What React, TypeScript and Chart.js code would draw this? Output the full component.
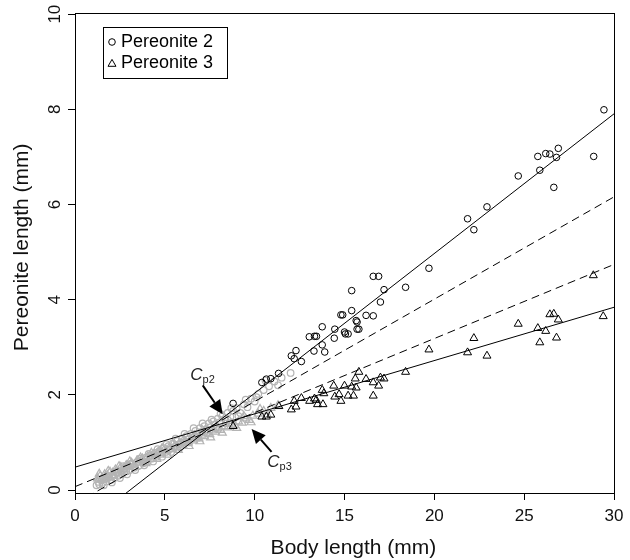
import React, { useEffect, useRef } from 'react';
import { Chart, registerables } from 'chart.js';

Chart.register(...registerables);

// ---------- data ----------
const xTicks = [0, 5, 10, 15, 20, 25, 30];
const yTicks = [0, 2, 4, 6, 8, 10];
const seriesLabels = ['Pereonite 2', 'Pereonite 3'];
const xTitle = 'Body length (mm)';
const yTitle = 'Pereonite length (mm)';

// Pereonite 2, larger individuals (black circles)
const p2BigX = [8.8, 10.4, 10.65, 10.9, 11.33, 12.04, 12.2, 12.3, 12.6, 13.04, 13.33, 13.44, 13.3, 13.76, 13.76, 13.9, 14.43, 14.46, 14.8, 14.9, 15.0, 15.05, 15.2, 15.4, 15.4, 15.65, 15.7, 15.7, 15.8, 16.2, 16.6, 16.6, 16.9, 17.0, 17.2, 18.4, 19.7, 21.85, 22.2, 22.93, 24.67, 25.76, 25.87, 26.2, 26.43, 26.65, 26.8, 26.9, 28.87, 29.44];
const p2BigY = [1.82, 2.26, 2.33, 2.34, 2.45, 2.82, 2.76, 2.93, 2.7, 3.22, 3.23, 3.23, 2.92, 3.43, 3.05, 2.9, 3.19, 3.38, 3.68, 3.68, 3.32, 3.28, 3.28, 4.19, 3.77, 3.56, 3.53, 3.38, 3.38, 3.67, 3.66, 4.49, 4.49, 3.95, 4.21, 4.26, 4.66, 5.7, 5.47, 5.95, 6.6, 7.01, 6.72, 7.07, 7.06, 6.36, 6.99, 7.18, 7.01, 7.99];

// Pereonite 3, larger individuals (black triangles)
const p3BigX = [8.8, 10.4, 10.65, 10.9, 11.35, 12.04, 12.2, 12.3, 12.6, 13.06, 13.33, 13.43, 13.5, 13.8, 13.76, 13.85, 14.4, 14.46, 14.7, 14.8, 15.0, 15.2, 15.4, 15.5, 15.6, 15.65, 15.8, 16.2, 16.6, 16.6, 16.9, 17.0, 17.2, 18.4, 19.7, 21.85, 22.2, 22.93, 24.67, 25.76, 25.87, 26.2, 26.43, 26.65, 26.8, 26.9, 28.85, 29.4];
const p3BigY = [1.34, 1.54, 1.54, 1.58, 1.76, 1.69, 1.87, 1.75, 1.93, 1.87, 1.92, 1.89, 1.8, 1.8, 2.1, 2.03, 2.19, 1.96, 2.01, 1.87, 2.19, 1.98, 2.17, 1.98, 2.34, 2.15, 2.48, 2.33, 2.26, 1.98, 2.19, 2.36, 2.34, 2.48, 2.95, 2.89, 3.19, 2.82, 3.49, 3.4, 3.1, 3.34, 3.69, 3.7, 3.2, 3.58, 4.51, 3.65];

// Pereonite 2, small individuals (grey circles)
const p2SmallX = [1.2, 1.3, 1.35, 1.5, 1.55, 1.7, 1.75, 1.9, 2.0, 2.1, 2.2, 2.35, 2.4, 2.55, 2.6, 2.75, 2.85, 2.95, 3.05, 3.2, 3.3, 3.45, 3.55, 3.7, 3.8, 3.95, 4.05, 4.2, 4.3, 4.45, 4.55, 4.7, 4.8, 4.95, 5.05, 5.2, 5.3, 5.45, 5.55, 5.7, 5.8, 5.95, 6.05, 6.2, 6.3, 6.45, 6.55, 6.7, 6.8, 6.95, 7.05, 7.2, 7.3, 7.45, 7.55, 7.7, 7.8, 7.95, 8.05, 8.2, 8.35, 8.5, 8.65, 8.8, 9.0, 9.2, 9.4, 9.6, 9.8, 10.0, 10.2, 10.5, 10.8, 11.1, 11.5, 12.0,
  1.4, 1.6, 1.8, 2.05, 2.3, 2.5, 2.7, 2.9, 3.1, 3.35, 3.6, 3.85, 4.1, 4.35, 4.6, 4.85, 5.1, 5.35, 5.6, 5.85, 6.1, 6.35, 6.6, 6.85, 7.1, 7.35, 7.6, 7.85, 8.1, 8.4, 8.7, 9.1, 9.5, 10.1, 10.6, 11.3];
const p2SmallY = [0.10, 0.17, 0.12, 0.21, 0.15, 0.24, 0.18, 0.27, 0.21, 0.32, 0.26, 0.36, 0.30, 0.40, 0.33, 0.44, 0.39, 0.49, 0.42, 0.53, 0.47, 0.58, 0.51, 0.62, 0.56, 0.68, 0.60, 0.72, 0.66, 0.78, 0.70, 0.82, 0.76, 0.88, 0.80, 0.92, 0.86, 0.98, 0.90, 1.03, 0.96, 1.08, 1.00, 1.13, 1.06, 1.18, 1.10, 1.24, 1.16, 1.30, 1.22, 1.34, 1.27, 1.40, 1.32, 1.44, 1.38, 1.50, 1.42, 1.55, 1.48, 1.62, 1.54, 1.66, 1.72, 1.62, 1.80, 1.74, 1.92, 1.86, 2.02, 2.10, 2.18, 2.28, 2.36, 2.46,
  0.22, 0.10, 0.30, 0.16, 0.38, 0.25, 0.50, 0.33, 0.55, 0.42, 0.66, 0.52, 0.76, 0.60, 0.86, 0.70, 0.96, 0.80, 1.08, 0.90, 1.18, 1.00, 1.30, 1.10, 1.40, 1.20, 1.48, 1.30, 1.60, 1.40, 1.72, 1.55, 1.90, 1.95, 2.30, 2.20];

// Pereonite 3, small individuals (grey triangles)
const p3SmallX = [1.25, 1.4, 1.5, 1.65, 1.8, 1.95, 2.1, 2.25, 2.4, 2.55, 2.7, 2.85, 3.0, 3.15, 3.3, 3.45, 3.6, 3.75, 3.9, 4.05, 4.2, 4.35, 4.5, 4.65, 4.8, 4.95, 5.1, 5.25, 5.4, 5.55, 5.7, 5.85, 6.0, 6.15, 6.3, 6.45, 6.6, 6.75, 6.9, 7.05, 7.2, 7.35, 7.5, 7.65, 7.8, 7.95, 8.1, 8.3, 8.5, 8.7, 8.9, 9.1, 9.3, 9.5, 9.7, 9.9, 10.2, 10.5, 10.9, 11.3,
  1.35, 1.6, 1.85, 2.15, 2.45, 2.75, 3.05, 3.35, 3.65, 3.95, 4.25, 4.55, 4.85, 5.15, 5.45, 5.75, 6.05, 6.35, 6.65, 6.95, 7.25, 7.55, 7.85, 8.2, 8.6, 9.0, 9.4, 9.8, 10.3, 10.7];
const p3SmallY = [0.24, 0.30, 0.25, 0.33, 0.31, 0.38, 0.36, 0.43, 0.40, 0.48, 0.45, 0.52, 0.50, 0.57, 0.54, 0.62, 0.59, 0.66, 0.63, 0.71, 0.68, 0.75, 0.72, 0.80, 0.77, 0.84, 0.81, 0.89, 0.86, 0.93, 0.90, 0.98, 0.95, 1.02, 0.99, 1.07, 1.04, 1.11, 1.08, 1.16, 1.13, 1.20, 1.17, 1.25, 1.22, 1.29, 1.26, 1.34, 1.31, 1.39, 1.36, 1.44, 1.41, 1.50, 1.47, 1.56, 1.60, 1.66, 1.72, 1.78,
  0.34, 0.22, 0.40, 0.30, 0.50, 0.38, 0.60, 0.48, 0.68, 0.56, 0.78, 0.65, 0.88, 0.74, 0.96, 0.84, 1.06, 0.92, 1.15, 1.02, 1.25, 1.10, 1.33, 1.20, 1.45, 1.30, 1.55, 1.42, 1.70, 1.58];

// Fitted lines (end values at x = 0 and x = 30)
const fitX = [0, 30];
const p2FitY = [-0.9, 7.905];
const p3FitY = [0.48, 3.84];
const p2DashY = [-0.29, 6.16];
const p3DashY = [0.07, 4.74];

// ---------- helpers ----------
const FONT = '"Liberation Sans", Arial, Helvetica, sans-serif';
const zip = (xs: number[], ys: number[]) => xs.map((x, i) => ({ x, y: ys[i] }));
const GREY = '#b4b4b4';

const boxPlugin = {
  id: 'boxPlugin',
  afterDraw(chart: any) {
    const { ctx, chartArea: a, scales } = chart;
    const xs = scales.x;
    const ys = scales.y;
    ctx.save();
    ctx.strokeStyle = '#000';
    ctx.lineWidth = 1;
    ctx.strokeRect(Math.round(a.left) + 0.5, Math.round(a.top) + 0.5, Math.round(a.right - a.left), Math.round(a.bottom - a.top));

    // axis titles
    ctx.fillStyle = '#111';
    ctx.font = `21px ${FONT}`;
    ctx.textAlign = 'center';
    ctx.textBaseline = 'middle';
    ctx.fillText(xTitle, xs.getPixelForValue(15.5), 548);
    ctx.save();
    ctx.translate(22, ys.getPixelForValue(5.1));
    ctx.rotate(-Math.PI / 2);
    ctx.fillText(yTitle, 0, 0);
    ctx.restore();

    // legend
    const lx = 103, ly = 27, lw = 124, lh = 51;
    ctx.strokeRect(lx + 0.5, ly + 0.5, lw, lh);
    ctx.font = `18px ${FONT}`;
    ctx.textAlign = 'left';
    ctx.fillStyle = '#000';
    ctx.lineWidth = 1;
    ctx.beginPath();
    ctx.arc(112, 42, 3.3, 0, Math.PI * 2);
    ctx.stroke();
    ctx.fillText(seriesLabels[0], 121, 42);
    const r = 4.6, tx = 112, ty = 64;
    ctx.beginPath();
    for (let k = 0; k < 3; k++) {
      const ang = (k * 2 * Math.PI) / 3;
      const px = tx + Math.sin(ang) * r;
      const py = ty - Math.cos(ang) * r;
      if (k === 0) ctx.moveTo(px, py); else ctx.lineTo(px, py);
    }
    ctx.closePath();
    ctx.stroke();
    ctx.fillText(seriesLabels[1], 121, 63);

    // annotations
    const drawArrow = (x1: number, y1: number, x2: number, y2: number) => {
      const p1x = xs.getPixelForValue(x1), p1y = ys.getPixelForValue(y1);
      const p2x = xs.getPixelForValue(x2), p2y = ys.getPixelForValue(y2);
      const ang = Math.atan2(p2y - p1y, p2x - p1x);
      const hl = 14, hw = 6.5;
      const bx = p2x - Math.cos(ang) * hl, by = p2y - Math.sin(ang) * hl;
      ctx.beginPath();
      ctx.moveTo(p1x, p1y);
      ctx.lineTo(bx, by);
      ctx.lineWidth = 2;
      ctx.strokeStyle = '#000';
      ctx.stroke();
      ctx.beginPath();
      ctx.moveTo(p2x, p2y);
      ctx.lineTo(bx - Math.sin(ang) * hw, by + Math.cos(ang) * hw);
      ctx.lineTo(bx + Math.sin(ang) * hw, by - Math.cos(ang) * hw);
      ctx.closePath();
      ctx.fillStyle = '#000';
      ctx.fill();
    };
    const drawLabel = (x: number, y: number, sub: string) => {
      const px = xs.getPixelForValue(x), py = ys.getPixelForValue(y);
      ctx.fillStyle = '#222';
      ctx.textAlign = 'left';
      ctx.textBaseline = 'alphabetic';
      ctx.font = `italic 17px ${FONT}`;
      ctx.fillText('C', px, py);
      const w = ctx.measureText('C').width;
      ctx.font = `11px ${FONT}`;
      ctx.fillText(sub, px + w, py + 3);
    };
    drawArrow(7.11, 2.2, 8.22, 1.59);
    drawArrow(10.94, 0.8, 9.83, 1.28);
    drawLabel(6.42, 2.31, 'p2');
    drawLabel(10.7, 0.48, 'p3');
    ctx.restore();
  },
};

export default function App() {
  const ref = useRef<HTMLCanvasElement | null>(null);
  useEffect(() => {
    if (!ref.current) return;
    const lineDs = (ys: number[], dashed: boolean) => ({
      data: zip(fitX, ys),
      showLine: true,
      borderColor: '#000',
      borderWidth: 1,
      borderDash: dashed ? [8, 5] : [],
      pointRadius: 0,
      pointHoverRadius: 0,
      fill: false,
      order: 1,
    });
    const chart = new Chart(ref.current, {
      type: 'scatter',
      data: {
        datasets: [
          { label: seriesLabels[0], data: zip(p2BigX, p2BigY), pointStyle: 'circle', pointRadius: 3.3, borderColor: '#000', backgroundColor: 'rgba(0,0,0,0)', borderWidth: 1, order: 0 },
          { label: seriesLabels[1], data: zip(p3BigX, p3BigY), pointStyle: 'triangle', pointRadius: 4.6, borderColor: '#000', backgroundColor: 'rgba(0,0,0,0)', borderWidth: 1, order: 0 },
          { label: 'p2 small', data: zip(p2SmallX, p2SmallY), pointStyle: 'circle', pointRadius: 3.3, borderColor: GREY, backgroundColor: 'rgba(0,0,0,0)', borderWidth: 1.2, order: 2 },
          { label: 'p3 small', data: zip(p3SmallX, p3SmallY), pointStyle: 'triangle', pointRadius: 4.6, borderColor: GREY, backgroundColor: 'rgba(0,0,0,0)', borderWidth: 1.2, order: 2 },
          lineDs(p2FitY, false) as any,
          lineDs(p3FitY, false) as any,
          lineDs(p2DashY, true) as any,
          lineDs(p3DashY, true) as any,
        ],
      },
      options: {
        responsive: false,
        animation: false,
        devicePixelRatio: 1,
        layout: { padding: { top: 12, right: 16, left: 0, bottom: 0 } },
        plugins: { legend: { display: false }, tooltip: { enabled: false } },
        scales: {
          x: {
            type: 'linear',
            position: 'bottom',
            min: 0,
            max: 30,
            afterBuildTicks: (axis: any) => { axis.ticks = xTicks.map((v) => ({ value: v })); },
            afterFit: (s: any) => { s.height = 67; },
            grid: { drawOnChartArea: false, drawTicks: true, tickLength: 7, tickColor: '#000', tickWidth: 1 },
            border: { display: true, color: '#000', width: 1 },
            ticks: { color: '#111', font: { family: FONT, size: 17 }, padding: 6, maxRotation: 0, minRotation: 0, autoSkip: false },
          },
          y: {
            type: 'linear',
            min: -0.063,
            max: 10.02,
            afterBuildTicks: (axis: any) => { axis.ticks = yTicks.map((v) => ({ value: v })); },
            afterFit: (s: any) => { s.width = 75; },
            grid: { drawOnChartArea: false, drawTicks: true, tickLength: 7, tickColor: '#000', tickWidth: 1 },
            border: { display: true, color: '#000', width: 1 },
            ticks: { color: '#111', font: { family: FONT, size: 17 }, padding: 3, minRotation: 90, maxRotation: 90, crossAlign: 'center', autoSkip: false },
          },
        },
      } as any,
      plugins: [boxPlugin],
    });
    return () => chart.destroy();
  }, []);
  return (
    <div style={{ position: 'absolute', left: 0, top: 0, width: 630, height: 560, background: '#fff' }}>
      <canvas ref={ref} width={630} height={560} style={{ width: 630, height: 560, display: 'block' }} />
    </div>
  );
}
